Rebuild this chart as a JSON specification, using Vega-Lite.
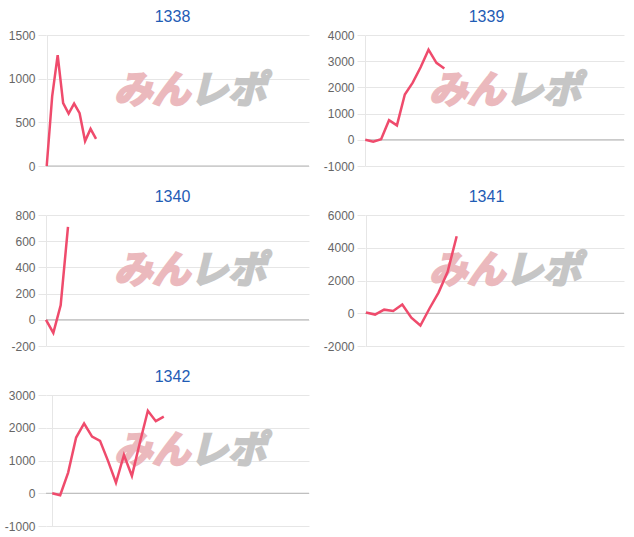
{
  "$schema": "https://vega.github.io/schema/vega-lite/v6.json",
  "padding": {"left": 4, "top": 9, "right": 5, "bottom": 5},
  "background": "white",
  "bounds": "flush",
  "columns": 2,
  "spacing": {"row": 49, "column": 56},
  "datasets": {
    "s1338": [{"i":0,"v":0},{"i":1,"v":800},{"i":2,"v":1270},{"i":3,"v":720},{"i":4,"v":600},{"i":5,"v":715},{"i":6,"v":605},{"i":7,"v":285},{"i":8,"v":425},{"i":9,"v":310}],
    "s1339": [{"i":0,"v":0},{"i":1,"v":-70},{"i":2,"v":20},{"i":3,"v":750},{"i":4,"v":550},{"i":5,"v":1730},{"i":6,"v":2180},{"i":7,"v":2770},{"i":8,"v":3440},{"i":9,"v":2940},{"i":10,"v":2720}],
    "s1340": [{"i":0,"v":0},{"i":1,"v":-100},{"i":2,"v":110},{"i":3,"v":710}],
    "s1341": [{"i":0,"v":40},{"i":1,"v":-80},{"i":2,"v":220},{"i":3,"v":140},{"i":4,"v":530},{"i":5,"v":-270},{"i":6,"v":-750},{"i":7,"v":290},{"i":8,"v":1260},{"i":9,"v":2530},{"i":10,"v":4700}],
    "s1342": [{"i":0,"v":0},{"i":1,"v":-60},{"i":2,"v":630},{"i":3,"v":1700},{"i":4,"v":2130},{"i":5,"v":1730},{"i":6,"v":1600},{"i":7,"v":990},{"i":8,"v":320},{"i":9,"v":1170},{"i":10,"v":530},{"i":11,"v":1550},{"i":12,"v":2520},{"i":13,"v":2200},{"i":14,"v":2340}]
  },
  "concat": [
    {
      "width": 263, "height": 131,
      "title": {"text": "1338", "dx": -5},
      "layer": [
        {"data": {"values": [{}]}, "mark": {"type": "text", "text": "みん", "align": "right", "baseline": "middle", "font": "Noto Sans CJK JP", "fontSize": 38, "fontWeight": "bold", "fontStyle": "italic", "color": "#ebb9bd", "stroke": "#ebb9bd", "strokeWidth": 2.5},
         "encoding": {"x": {"datum": 26.14, "type": "quantitative", "scale": {"domain": [-0.13, 47.86], "nice": false, "zero": false}, "axis": {"title": null, "values": [0], "labels": false, "ticks": false, "domain": false, "grid": true, "gridColor": "#e6e6e6"}},
                      "y": {"datum": 847, "type": "quantitative", "scale": {"domain": [0, 1500], "nice": false, "zero": false}, "axis": {"title": null, "values": [0, 500, 1000, 1500], "tickCount": 10, "labelExpr": "'' + datum.value", "labelOverlap": false, "labelSeparation": -40, "grid": true, "gridColor": "#e6e6e6", "tickColor": "#e6e6e6"}}}},
        {"data": {"values": [{}]}, "mark": {"type": "text", "text": "レポ", "align": "left", "baseline": "middle", "font": "Noto Sans CJK JP", "fontSize": 38, "fontWeight": "bold", "fontStyle": "italic", "color": "#c6c6c6", "stroke": "#c6c6c6", "strokeWidth": 2.5},
         "encoding": {"x": {"datum": 26.14, "type": "quantitative"}, "y": {"datum": 847, "type": "quantitative"}}},
        {"data": {"values": [{}]}, "mark": {"type": "rule", "color": "#b4b4b4", "strokeWidth": 1},
         "encoding": {"y": {"datum": 0, "type": "quantitative"}}},
        {"data": {"name": "s1338"}, "mark": {"type": "line", "color": "#ef4b6c", "strokeWidth": 2.5, "strokeJoin": "miter"},
         "encoding": {
           "x": {"field": "i", "type": "quantitative", "scale": {"domain": [-0.13, 47.86], "nice": false, "zero": false},
                 "axis": {"title": null, "values": [0], "labels": false, "ticks": false, "domain": false, "grid": true, "gridColor": "#e6e6e6"}},
           "y": {"field": "v", "type": "quantitative", "scale": {"domain": [0, 1500], "nice": false, "zero": false},
                 "axis": {"title": null, "values": [0, 500, 1000, 1500], "tickCount": 10, "labelExpr": "'' + datum.value", "labelOverlap": false, "labelSeparation": -40, "grid": true, "gridColor": "#e6e6e6", "tickColor": "#e6e6e6"}}
         }}
      ]
    },
    {
      "width": 259, "height": 131,
      "title": {"text": "1339", "dx": -8},
      "layer": [
        {"data": {"values": [{}]}, "mark": {"type": "text", "text": "みん", "align": "right", "baseline": "middle", "font": "Noto Sans CJK JP", "fontSize": 38, "fontWeight": "bold", "fontStyle": "italic", "color": "#ebb9bd", "stroke": "#ebb9bd", "strokeWidth": 2.5},
         "encoding": {"x": {"datum": 17.68, "type": "quantitative", "scale": {"domain": [-0.04, 32.74], "nice": false, "zero": false}, "axis": {"title": null, "values": [0], "labels": false, "ticks": false, "domain": false, "grid": true, "gridColor": "#e6e6e6"}},
                      "y": {"datum": 1825, "type": "quantitative", "scale": {"domain": [-1000, 4000], "nice": false, "zero": false}, "axis": {"title": null, "values": [-1000, 0, 1000, 2000, 3000, 4000], "tickCount": 10, "labelExpr": "'' + datum.value", "labelOverlap": false, "labelSeparation": -40, "grid": true, "gridColor": "#e6e6e6", "tickColor": "#e6e6e6"}}}},
        {"data": {"values": [{}]}, "mark": {"type": "text", "text": "レポ", "align": "left", "baseline": "middle", "font": "Noto Sans CJK JP", "fontSize": 38, "fontWeight": "bold", "fontStyle": "italic", "color": "#c6c6c6", "stroke": "#c6c6c6", "strokeWidth": 2.5},
         "encoding": {"x": {"datum": 17.68, "type": "quantitative"}, "y": {"datum": 1825, "type": "quantitative"}}},
        {"data": {"values": [{}]}, "mark": {"type": "rule", "color": "#b4b4b4", "strokeWidth": 1},
         "encoding": {"y": {"datum": 0, "type": "quantitative"}}},
        {"data": {"name": "s1339"}, "mark": {"type": "line", "color": "#ef4b6c", "strokeWidth": 2.5, "strokeJoin": "miter"},
         "encoding": {
           "x": {"field": "i", "type": "quantitative", "scale": {"domain": [-0.04, 32.74], "nice": false, "zero": false},
                 "axis": {"title": null, "values": [0], "labels": false, "ticks": false, "domain": false, "grid": true, "gridColor": "#e6e6e6"}},
           "y": {"field": "v", "type": "quantitative", "scale": {"domain": [-1000, 4000], "nice": false, "zero": false},
                 "axis": {"title": null, "values": [-1000, 0, 1000, 2000, 3000, 4000], "tickCount": 10, "labelExpr": "'' + datum.value", "labelOverlap": false, "labelSeparation": -40, "grid": true, "gridColor": "#e6e6e6", "tickColor": "#e6e6e6"}}
         }}
      ]
    },
    {
      "width": 263, "height": 131,
      "title": {"text": "1340", "dx": -5},
      "layer": [
        {"data": {"values": [{}]}, "mark": {"type": "text", "text": "みん", "align": "right", "baseline": "middle", "font": "Noto Sans CJK JP", "fontSize": 38, "fontWeight": "bold", "fontStyle": "italic", "color": "#ebb9bd", "stroke": "#ebb9bd", "strokeWidth": 2.5},
         "encoding": {"x": {"datum": 19.64, "type": "quantitative", "scale": {"domain": [0, 35.88], "nice": false, "zero": false}, "axis": {"title": null, "values": [0], "labels": false, "ticks": false, "domain": false, "grid": true, "gridColor": "#e6e6e6"}},
                      "y": {"datum": 365, "type": "quantitative", "scale": {"domain": [-200, 800], "nice": false, "zero": false}, "axis": {"title": null, "values": [-200, 0, 200, 400, 600, 800], "tickCount": 10, "labelExpr": "'' + datum.value", "labelOverlap": false, "labelSeparation": -40, "grid": true, "gridColor": "#e6e6e6", "tickColor": "#e6e6e6"}}}},
        {"data": {"values": [{}]}, "mark": {"type": "text", "text": "レポ", "align": "left", "baseline": "middle", "font": "Noto Sans CJK JP", "fontSize": 38, "fontWeight": "bold", "fontStyle": "italic", "color": "#c6c6c6", "stroke": "#c6c6c6", "strokeWidth": 2.5},
         "encoding": {"x": {"datum": 19.64, "type": "quantitative"}, "y": {"datum": 365, "type": "quantitative"}}},
        {"data": {"values": [{}]}, "mark": {"type": "rule", "color": "#b4b4b4", "strokeWidth": 1},
         "encoding": {"y": {"datum": 0, "type": "quantitative"}}},
        {"data": {"name": "s1340"}, "mark": {"type": "line", "color": "#ef4b6c", "strokeWidth": 2.5, "strokeJoin": "miter"},
         "encoding": {
           "x": {"field": "i", "type": "quantitative", "scale": {"domain": [0, 35.88], "nice": false, "zero": false},
                 "axis": {"title": null, "values": [0], "labels": false, "ticks": false, "domain": false, "grid": true, "gridColor": "#e6e6e6"}},
           "y": {"field": "v", "type": "quantitative", "scale": {"domain": [-200, 800], "nice": false, "zero": false},
                 "axis": {"title": null, "values": [-200, 0, 200, 400, 600, 800], "tickCount": 10, "labelExpr": "'' + datum.value", "labelOverlap": false, "labelSeparation": -40, "grid": true, "gridColor": "#e6e6e6", "tickColor": "#e6e6e6"}}
         }}
      ]
    },
    {
      "width": 259, "height": 131,
      "title": {"text": "1341", "dx": -8},
      "layer": [
        {"data": {"values": [{}]}, "mark": {"type": "text", "text": "みん", "align": "right", "baseline": "middle", "font": "Noto Sans CJK JP", "fontSize": 38, "fontWeight": "bold", "fontStyle": "italic", "color": "#ebb9bd", "stroke": "#ebb9bd", "strokeWidth": 2.5},
         "encoding": {"x": {"datum": 15.33, "type": "quantitative", "scale": {"domain": [-0.11, 28.45], "nice": false, "zero": false}, "axis": {"title": null, "values": [0], "labels": false, "ticks": false, "domain": false, "grid": true, "gridColor": "#e6e6e6"}},
                      "y": {"datum": 2520, "type": "quantitative", "scale": {"domain": [-2000, 6000], "nice": false, "zero": false}, "axis": {"title": null, "values": [-2000, 0, 2000, 4000, 6000], "tickCount": 10, "labelExpr": "'' + datum.value", "labelOverlap": false, "labelSeparation": -40, "grid": true, "gridColor": "#e6e6e6", "tickColor": "#e6e6e6"}}}},
        {"data": {"values": [{}]}, "mark": {"type": "text", "text": "レポ", "align": "left", "baseline": "middle", "font": "Noto Sans CJK JP", "fontSize": 38, "fontWeight": "bold", "fontStyle": "italic", "color": "#c6c6c6", "stroke": "#c6c6c6", "strokeWidth": 2.5},
         "encoding": {"x": {"datum": 15.33, "type": "quantitative"}, "y": {"datum": 2520, "type": "quantitative"}}},
        {"data": {"values": [{}]}, "mark": {"type": "rule", "color": "#b4b4b4", "strokeWidth": 1},
         "encoding": {"y": {"datum": 0, "type": "quantitative"}}},
        {"data": {"name": "s1341"}, "mark": {"type": "line", "color": "#ef4b6c", "strokeWidth": 2.5, "strokeJoin": "miter"},
         "encoding": {
           "x": {"field": "i", "type": "quantitative", "scale": {"domain": [-0.11, 28.45], "nice": false, "zero": false},
                 "axis": {"title": null, "values": [0], "labels": false, "ticks": false, "domain": false, "grid": true, "gridColor": "#e6e6e6"}},
           "y": {"field": "v", "type": "quantitative", "scale": {"domain": [-2000, 6000], "nice": false, "zero": false},
                 "axis": {"title": null, "values": [-2000, 0, 2000, 4000, 6000], "tickCount": 10, "labelExpr": "'' + datum.value", "labelOverlap": false, "labelSeparation": -40, "grid": true, "gridColor": "#e6e6e6", "tickColor": "#e6e6e6"}}
         }}
      ]
    },
    {
      "width": 263, "height": 131,
      "title": {"text": "1342", "dx": -5},
      "layer": [
        {"data": {"values": [{}]}, "mark": {"type": "text", "text": "みん", "align": "right", "baseline": "middle", "font": "Noto Sans CJK JP", "fontSize": 38, "fontWeight": "bold", "fontStyle": "italic", "color": "#ebb9bd", "stroke": "#ebb9bd", "strokeWidth": 2.5},
         "encoding": {"x": {"datum": 17.29, "type": "quantitative", "scale": {"domain": [-0.78, 32.22], "nice": false, "zero": false}, "axis": {"title": null, "values": [0], "labels": false, "ticks": false, "domain": false, "grid": true, "gridColor": "#e6e6e6"}},
                      "y": {"datum": 1260, "type": "quantitative", "scale": {"domain": [-1000, 3000], "nice": false, "zero": false}, "axis": {"title": null, "values": [-1000, 0, 1000, 2000, 3000], "tickCount": 10, "labelExpr": "'' + datum.value", "labelOverlap": false, "labelSeparation": -40, "grid": true, "gridColor": "#e6e6e6", "tickColor": "#e6e6e6"}}}},
        {"data": {"values": [{}]}, "mark": {"type": "text", "text": "レポ", "align": "left", "baseline": "middle", "font": "Noto Sans CJK JP", "fontSize": 38, "fontWeight": "bold", "fontStyle": "italic", "color": "#c6c6c6", "stroke": "#c6c6c6", "strokeWidth": 2.5},
         "encoding": {"x": {"datum": 17.29, "type": "quantitative"}, "y": {"datum": 1260, "type": "quantitative"}}},
        {"data": {"values": [{}]}, "mark": {"type": "rule", "color": "#b4b4b4", "strokeWidth": 1},
         "encoding": {"y": {"datum": 0, "type": "quantitative"}}},
        {"data": {"name": "s1342"}, "mark": {"type": "line", "color": "#ef4b6c", "strokeWidth": 2.5, "strokeJoin": "miter"},
         "encoding": {
           "x": {"field": "i", "type": "quantitative", "scale": {"domain": [-0.78, 32.22], "nice": false, "zero": false},
                 "axis": {"title": null, "values": [0], "labels": false, "ticks": false, "domain": false, "grid": true, "gridColor": "#e6e6e6"}},
           "y": {"field": "v", "type": "quantitative", "scale": {"domain": [-1000, 3000], "nice": false, "zero": false},
                 "axis": {"title": null, "values": [-1000, 0, 1000, 2000, 3000], "tickCount": 10, "labelExpr": "'' + datum.value", "labelOverlap": false, "labelSeparation": -40, "grid": true, "gridColor": "#e6e6e6", "tickColor": "#e6e6e6"}}
         }}
      ]
    }
  ],
  "config": {
    "view": {"stroke": null},
    "font": "Liberation Sans",
    "axis": {"labelFont": "Liberation Sans", "labelFontSize": 12, "labelColor": "#666666", "tickSize": 8, "labelPadding": 3, "domain": false, "gridWidth": 1, "tickWidth": 1, "labelOverlap": false},
    "title": {"font": "Liberation Sans", "fontSize": 16, "fontWeight": "normal", "color": "#1f5cb5", "anchor": "middle", "frame": "group", "baseline": "alphabetic", "offset": 4}
  }
}
